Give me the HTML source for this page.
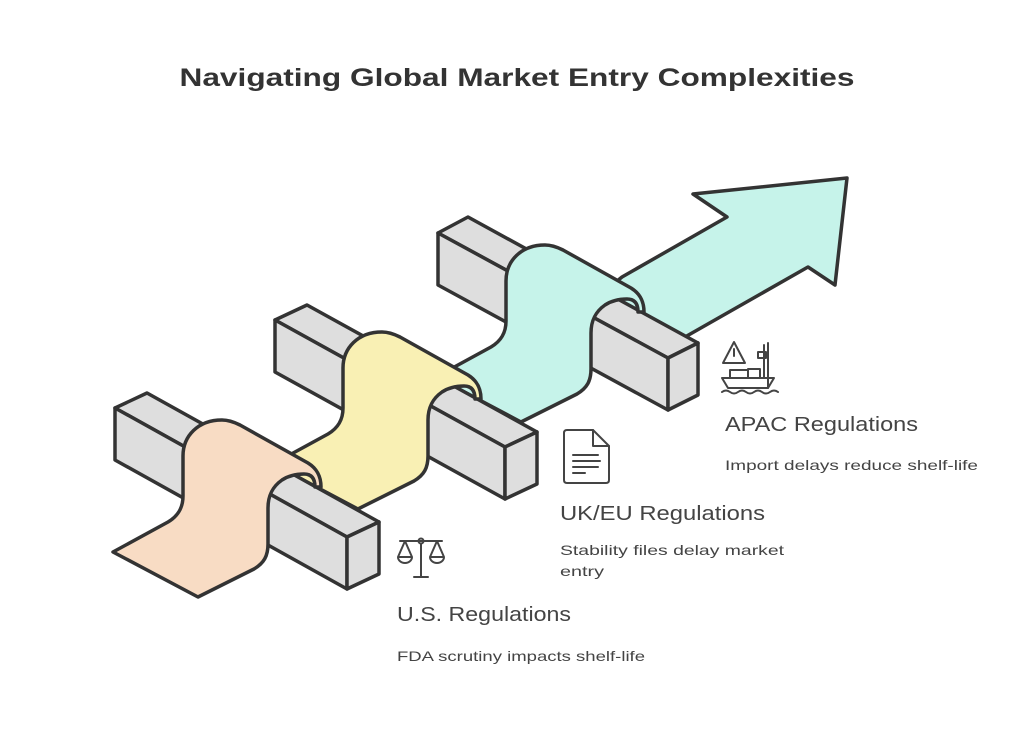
<!DOCTYPE html>
<html><head><meta charset="utf-8"><style>
html,body{margin:0;padding:0;background:#fff;}
svg{display:block;}
text{font-family:"Liberation Sans",sans-serif;}
</style></head><body>
<svg width="1035" height="745" viewBox="0 0 1035 745" xmlns="http://www.w3.org/2000/svg">
<defs>
<path id="rib" d="M113,552 L168,522 C178,516 183,508 183,496 L183,456 C183,436 198,420 222,420 C228,420 234,422 240,425 L308,463 C316,468 321,475 321,487 L315,487 C315,478 311,474 304,474 C296,474 288,476 282,480 C272,487 268,496 268,508 L268,544 C268,556 264,563 254,569 L198,597 Z"/>
</defs>
<rect width="1035" height="745" fill="#fff"/>
<text x="517" y="86" text-anchor="middle" font-size="25" font-weight="bold" fill="#333" textLength="675" lengthAdjust="spacingAndGlyphs">Navigating Global Market Entry Complexities</text>

<g stroke="#333" stroke-width="3.5" stroke-linejoin="round" stroke-linecap="round">
<!-- arrow -->
<polygon points="600,295 622,277 727,217 693,194 847,178 835,285 808,267 685,337 640,345" fill="#c6f3ea"/>
<!-- block3 -->
<g fill="#dedede">
<polygon points="438,233 668,358 698,343 468,217"/>
<polygon points="438,233 668,358 668,410 438,285"/>
<polygon points="668,358 698,343 698,395 668,410"/>
</g>
<use href="#rib" transform="translate(323,-175)" fill="#c6f3ea"/>
<!-- block2 -->
<g fill="#dedede">
<polygon points="275,320 505,447 537,432 307,305"/>
<polygon points="275,320 505,447 505,499 275,372"/>
<polygon points="505,447 537,432 537,484 505,499"/>
</g>
<use href="#rib" transform="translate(160,-88)" fill="#f9f0b4"/>
<!-- block1 -->
<g fill="#dedede">
<polygon points="115,408 347,537 379,522 147,393"/>
<polygon points="115,408 347,537 347,589 115,460"/>
<polygon points="347,537 379,522 379,574 347,589"/>
</g>
<use href="#rib" fill="#f8dcc4"/>
</g>

<!-- icons -->
<g stroke="#444" stroke-width="2" fill="none" stroke-linecap="round" stroke-linejoin="round">
<!-- scale -->
<line x1="400" y1="541" x2="442" y2="541"/>
<circle cx="421" cy="541" r="2.5"/>
<line x1="421" y1="544" x2="421" y2="577"/>
<line x1="414" y1="577" x2="428" y2="577"/>
<path d="M405,541 L398,557 M405,541 L412,557 M398,557 A7,6 0 0 0 412,557 Z"/>
<path d="M437,541 L430,557 M437,541 L444,557 M430,557 A7,6 0 0 0 444,557 Z"/>
<!-- doc -->
<path d="M567,430 L593,430 L609,446 L609,480 Q609,483 606,483 L567,483 Q564,483 564,480 L564,433 Q564,430 567,430 Z"/>
<path d="M593,430 L593,446 L609,446"/>
<line x1="573" y1="455" x2="598" y2="455"/><line x1="573" y1="461" x2="600" y2="461"/>
<line x1="573" y1="467" x2="598" y2="467"/><line x1="573" y1="473" x2="585" y2="473"/>
<!-- warning + ship -->
<path d="M734,342 L723,363 L745,363 Z"/>
<line x1="734" y1="349" x2="734" y2="356"/>
<path d="M764,345 L764,378 M768,343 L768,388"/>
<rect x="758" y="352" width="8" height="6"/>
<rect x="730" y="370" width="18" height="8"/><rect x="748" y="369" width="12" height="9"/>
<path d="M722,378 L774,378 L768,388 L728,388 Z"/>
<path d="M722,392 q4,-3 8,0 q4,3 8,0 q4,-3 8,0 q4,3 8,0 q4,-3 8,0 q4,3 8,0 q4,-3 8,0"/>
</g>

<g fill="#444">
<text x="725" y="431" font-size="20" textLength="193" lengthAdjust="spacingAndGlyphs">APAC Regulations</text>
<text x="725" y="470" font-size="14" textLength="253" lengthAdjust="spacingAndGlyphs">Import delays reduce shelf-life</text>
<text x="560" y="520" font-size="20" textLength="205" lengthAdjust="spacingAndGlyphs">UK/EU Regulations</text>
<text x="560" y="555" font-size="14" textLength="224" lengthAdjust="spacingAndGlyphs">Stability files delay market</text>
<text x="560" y="576" font-size="14" textLength="44" lengthAdjust="spacingAndGlyphs">entry</text>
<text x="397" y="621" font-size="20" textLength="174" lengthAdjust="spacingAndGlyphs">U.S. Regulations</text>
<text x="397" y="661" font-size="14" textLength="248" lengthAdjust="spacingAndGlyphs">FDA scrutiny impacts shelf-life</text>
</g>
</svg>
</body></html>
